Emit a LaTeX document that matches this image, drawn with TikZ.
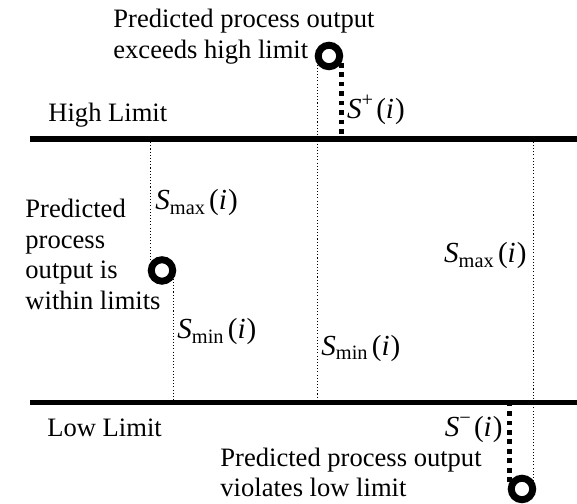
\documentclass[tikz,border=0pt]{standalone}
\usepackage{fontspec}
\setmainfont{Liberation Serif}

\newcommand{\Sfn}[1]{\textit{S}\textsubscript{#1}\kern1.5pt(\textit{i}\kern0.5pt)}
\newcommand{\Ssup}[1]{\textit{S}\textsuperscript{#1}\kern1pt(\textit{i}\kern0.5pt)}

\begin{document}
\begin{tikzpicture}[
    limit/.style={line width=2.6pt},
    ring/.style={circle, draw, line width=3.3pt, outer sep=1.65pt, minimum size=0.358cm, inner sep=0pt},
    band/.style={line width=0.5pt, densely dotted},
    excess/.style={line width=2.4pt, dash pattern=on 2.2pt off 2.3pt},
    txt/.style={inner sep=0pt, font=\fontsize{12.6}{14.5}\selectfont, align=left},
    sym/.style={inner sep=0pt, font=\fontsize{13.8}{16}\selectfont}]
\useasboundingbox (0,0) rectangle (9.617,8.4);

    % Grenzen:
    \coordinate (hiL) at (0.5,6.083);
    \coordinate (hiR) at (9.617,6.083);
    \coordinate (loL) at (0.5,1.692);
    \coordinate (loR) at (9.617,1.692);
    \draw[limit] (hiL) -- (hiR); % obere Grenze
    \draw[limit] (loL) -- (loR); % untere Grenze

    % Prognosen:
    \node[ring] (inside) at (2.7,3.892) {};
    \node[ring] (above) at (5.483,7.467) {};
    \node[ring] (below) at (8.7,0.25) {};

    % Abstaende:
    \draw[band] (inside.142 |- hiL) -- (inside.142);
    \draw[band] (inside.-36) -- (inside.-36 |- loL);
    \draw[band] (above.217) -- (above.217 |- loL);
    \draw[band] (below.33) -- (below.33 |- hiL);
\draw[excess] (above.-29) -- (above.-29 |- hiL); 
\draw[excess] (below.151) -- (below.151 |- loL); 

    % Texte (base = letzte Zeile):
    \node[txt, anchor=base west] (overtxt) at (1.883,7.433) {Predicted process output\\exceeds high limit};
    \node[txt, anchor=base west] (hilbl) at (0.8,6.367) {High Limit};
    \node[txt, anchor=base west] (lolbl) at (0.783,1.133) {Low Limit};
    \node[txt, anchor=base west] (intxt) at (0.417,3.242) {Predicted\\process\\output is\\within limits};
    \node[txt, anchor=base west] (undertxt) at (3.667,0.117) {Predicted process output\\violates low limit};

    \node[sym, anchor=base west] (splus) at (5.778,6.433) {\Ssup{+}};
    \node[sym, anchor=base west] (smaxa) at (2.583,4.9) {\Sfn{max}};
    \node[sym, anchor=base west] (smina) at (2.95,2.75) {\Sfn{min}};
    \node[sym, anchor=base west] (sminb) at (5.35,2.483) {\Sfn{min}};
    \node[sym, anchor=base east] (smaxb) at (8.783,4.017) {\Sfn{max}};
    \node[sym, anchor=base east] (sminus) at (8.383,1.133) {\Ssup{−}};
\end{tikzpicture}
\end{document}
